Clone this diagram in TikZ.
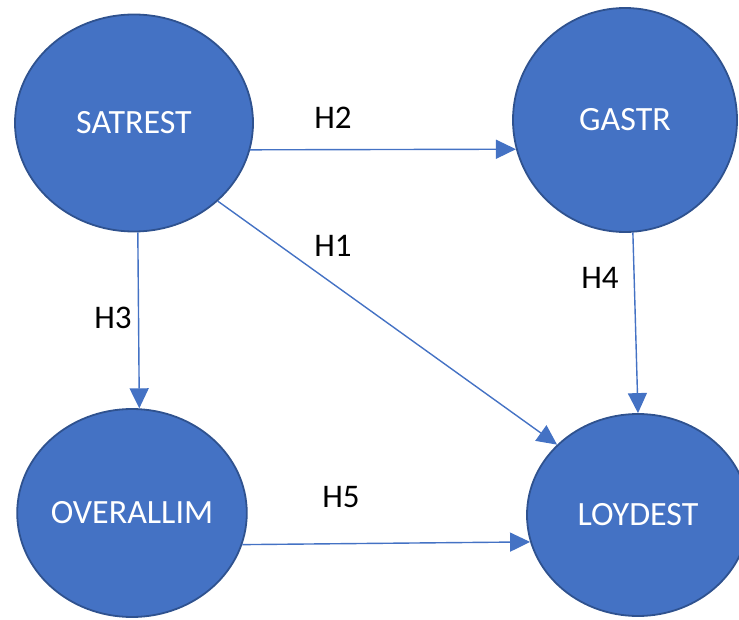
\documentclass[tikz,border=0pt]{standalone}
\usepackage{fontspec}
\setmainfont{Carlito}
\usetikzlibrary{shapes.geometric, arrows.meta}
\definecolor{officeblue}{HTML}{4472C4}
\definecolor{officeedge}{HTML}{2F528F}

\begin{document}
\begin{tikzpicture}[x=1pt, y=-1pt,
	construct/.style={ellipse, draw=officeedge, line width=1.8pt, fill=officeblue, text=white, inner sep=0pt, font=\fontsize{34}{40}\selectfont},
	hyp/.style={draw=officeblue, line width=1.4pt, -{Triangle[length=20pt,width=19pt]}},
	hlabel/.style={font=\fontsize{33}{38}\selectfont}]
	\useasboundingbox (0,0) rectangle (739,620);
	% constructs
	\node[construct, minimum width=238pt, minimum height=217pt] (satrest) at (134,123) {SATREST};
	\node[construct, minimum width=224pt, minimum height=224pt] (gastr) at (625,120) {GASTR};
	\node[construct, minimum width=222pt, minimum height=208pt] (overallim) at (132,513) {OVERALLIM};
	\node[construct, minimum width=222pt, minimum height=202pt] (loydest) at (638,515) {LOYDEST};
	% hypotheses
	\draw[hyp] (satrest.-13) -- (gastr.195);
	\draw[hyp] (satrest.-43) -- (loydest.139);
	\draw[hyp] (satrest.-88) -- (overallim.86);
	\draw[hyp] (gastr.-86) -- (loydest.90);
	\draw[hyp] (overallim.-16) -- (loydest.194);
	\node[hlabel] (h2) at (333,118) {H2};
	\node[hlabel] (h1) at (333,246) {H1};
	\node[hlabel] (h3) at (113,318) {H3};
	\node[hlabel] (h4) at (600,278) {H4};
	\node[hlabel] (h5) at (341,497) {H5};
\end{tikzpicture}
\end{document}
